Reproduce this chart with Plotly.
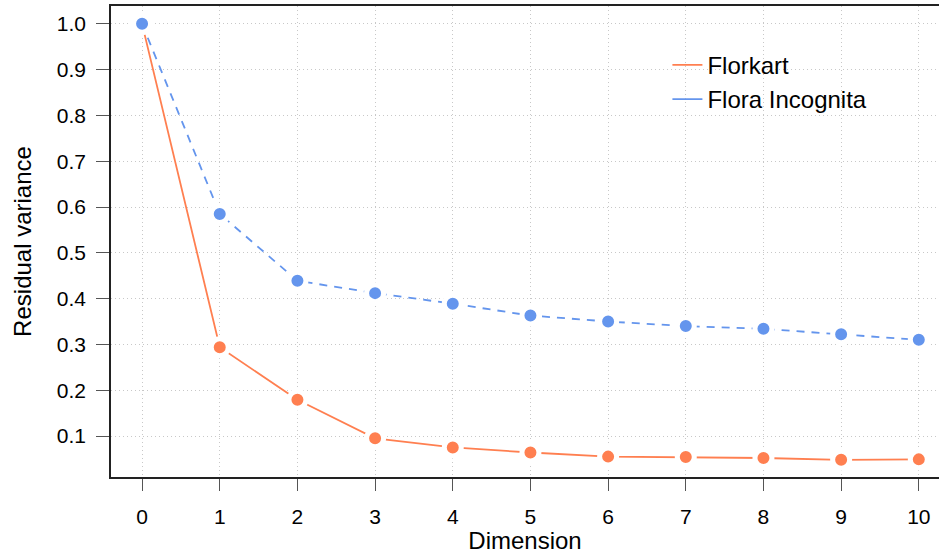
import plotly.graph_objects as go

dims = [0, 1, 2, 3, 4, 5, 6, 7, 8, 9, 10]
florkart = [1.0, 0.294, 0.179, 0.095, 0.075, 0.064, 0.055, 0.054, 0.052, 0.048, 0.049]
flora_incognita = [1.0, 0.585, 0.439, 0.412, 0.389, 0.363, 0.350, 0.340, 0.334, 0.322, 0.310]
y_ticks = [0.1, 0.2, 0.3, 0.4, 0.5, 0.6, 0.7, 0.8, 0.9, 1.0]
x_ticks = dims

ORANGE = "#FF7F50"
BLUE = "#6495ED"
FONT = "Liberation Sans, Arial, Helvetica, sans-serif"

fig = go.Figure()
# lines
fig.add_trace(go.Scatter(x=dims, y=florkart, mode="lines",
                         line=dict(color=ORANGE, width=1.8), showlegend=False))
fig.add_trace(go.Scatter(x=dims, y=flora_incognita, mode="lines",
                         line=dict(color=BLUE, width=1.8, dash="8px,7px"), showlegend=False))
# points with white ring to mimic R type="b" gaps
fig.add_trace(go.Scatter(x=dims, y=florkart, mode="markers",
                         marker=dict(color=ORANGE, size=17, line=dict(color="white", width=5)),
                         showlegend=False))
fig.add_trace(go.Scatter(x=dims, y=flora_incognita, mode="markers",
                         marker=dict(color=BLUE, size=17, line=dict(color="white", width=5)),
                         showlegend=False))
# legend entries
fig.add_trace(go.Scatter(x=[None], y=[None], mode="lines", name="Florkart",
                         line=dict(color=ORANGE, width=1.8)))
fig.add_trace(go.Scatter(x=[None], y=[None], mode="lines", name="Flora Incognita",
                         line=dict(color=BLUE, width=1.8)))

fig.update_layout(
    width=939, height=554,
    margin=dict(l=111, r=0, t=6, b=77),
    paper_bgcolor="white", plot_bgcolor="white",
    font=dict(family=FONT, color="black", size=21),
    showlegend=True,
    legend=dict(x=0.672, y=0.922, xanchor="left", yanchor="top",
                bgcolor="rgba(0,0,0,0)", font=dict(size=24), itemwidth=30),
)
fig.update_xaxes(
    range=[-0.4, 10.26], tickvals=x_ticks, ticktext=[str(v) for v in x_ticks],
    showline=True, linecolor="#222", linewidth=1.5, mirror=True,
    ticks="outside", ticklen=12, tickcolor="#555", tickwidth=1.3,
    ticklabelstandoff=8,
    showgrid=True, gridcolor="#c8c8c8", griddash="1px,3px", gridwidth=1.2,
    zeroline=False,
    title=dict(text="Dimension", font=dict(size=24), standoff=0),
)
fig.update_yaxes(
    range=[0.0105, 1.039], tickvals=y_ticks, ticktext=[f"{v:.1f}" for v in y_ticks],
    showline=True, linecolor="#222", linewidth=1.5, mirror=False,
    ticks="outside", ticklen=13, tickcolor="#555", tickwidth=1.3,
    ticklabelstandoff=6,
    showgrid=True, gridcolor="#c8c8c8", griddash="1px,3px", gridwidth=1.2,
    zeroline=False,
    title=dict(text="Residual variance", font=dict(size=24), standoff=18),
)

fig.write_html("out.html", config={"displayModeBar": False},
               post_script="document.body.style.margin='0';")
